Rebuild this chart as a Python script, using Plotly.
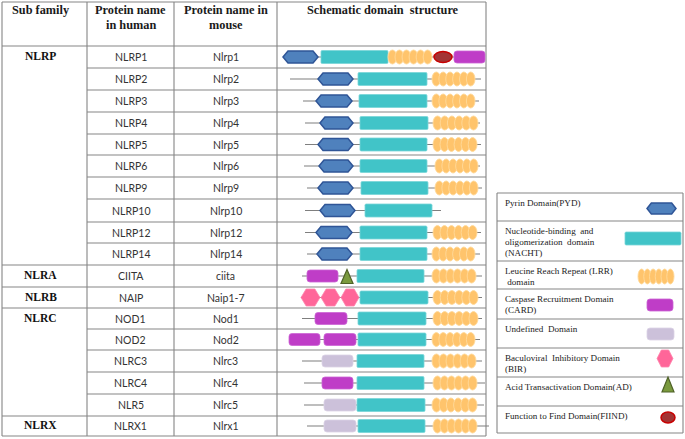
import plotly.graph_objects as go

# ---------------- data ----------------
subfamilies = ["NLRP", "NLRA", "NLRB", "NLRC", "NLRX"]
group_sizes = [10, 1, 1, 5, 1]
human = ["NLRP1", "NLRP2", "NLRP3", "NLRP4", "NLRP5", "NLRP6", "NLRP9", "NLRP10",
         "NLRP12", "NLRP14", "CIITA", "NAIP", "NOD1", "NOD2", "NLRC3", "NLRC4",
         "NLR5", "NLRX1"]
mouse = ["Nlrp1", "Nlrp2", "Nlrp3", "Nlrp4", "Nlrp5", "Nlrp6", "Nlrp9", "Nlrp10",
         "Nlrp12", "Nlrp14", "ciita", "Naip1-7", "Nod1", "Nod2", "Nlrc3", "Nlrc4",
         "Nlrc5", "Nlrx1"]
# backbone extent (schematic units)
backbone = [(6, 208), (13, 204), (26, 202), (28, 203), (28, 204), (27, 203), (30, 205),
            (28, 164), (28, 204), (30, 203), (25, 205), (24, 205), (25, 205), (12, 203),
            (25, 205), (27, 208), (27, 207), (30, 212)]
# domains: (type, start, end) in schematic units
domains = [
    [("PYD", 6, 41), ("NACHT", 44, 111), ("LRR", 111, 155), ("FIIND", 157, 175), ("CARD", 177, 208)],
    [("PYD", 41, 76), ("NACHT", 81, 150), ("LRR", 155, 198)],
    [("PYD", 39, 75), ("NACHT", 82, 150), ("LRR", 155, 198)],
    [("PYD", 43, 76), ("NACHT", 83, 151), ("LRR", 156, 201)],
    [("PYD", 41, 76), ("NACHT", 83, 150), ("LRR", 156, 200)],
    [("PYD", 42, 76), ("NACHT", 83, 150), ("LRR", 158, 201)],
    [("PYD", 41, 76), ("NACHT", 84, 151), ("LRR", 158, 201)],
    [("PYD", 43, 78), ("NACHT", 88, 155)],
    [("PYD", 39, 75), ("NACHT", 83, 150), ("LRR", 156, 200)],
    [("PYD", 40, 75), ("NACHT", 83, 150), ("LRR", 155, 198)],
    [("CARD", 30, 61), ("AD", 64, 76), ("NACHT", 80, 147), ("LRR", 155, 199)],
    [("BIR", 24, 43), ("BIR", 44, 63), ("BIR", 64, 82), ("NACHT", 83, 151), ("LRR", 156, 201)],
    [("CARD", 38, 70), ("NACHT", 81, 149), ("LRR", 156, 201)],
    [("CARD", 12, 43), ("CARD", 47, 79), ("NACHT", 81, 149), ("LRR", 155, 198)],
    [("UND", 45, 76), ("NACHT", 80, 147), ("LRR", 155, 199)],
    [("CARD", 45, 76), ("NACHT", 80, 147), ("LRR", 156, 200)],
    [("UND", 47, 79), ("NACHT", 80, 148), ("LRR", 155, 200)],
    [("UND", 47, 79), ("NACHT", 81, 148), ("LRR", 156, 200)],
]
legend_types = ["PYD", "NACHT", "LRR", "CARD", "UND", "BIR", "AD", "FIIND"]
legend_labels = [
    ["Pyrin Domain(PYD)"],
    ["Nucleotide-binding  and", "oligomerization  domain", "(NACHT)"],
    ["Leucine Reach Repeat (LRR)", " domain"],
    ["Caspase Recruitment Domain", "(CARD)"],
    ["Undefined  Domain"],
    ["Baculoviral  Inhibitory Domain", "(BIR)"],
    ["Acid Transactivation Domain(AD)"],
    ["Function to Find Domain(FIIND)"],
]
headers = [["Sub family"], ["Protein name", "in human"], ["Protein name in", "mouse"],
           ["Schematic domain  structure"]]

# ---------------- layout constants ----------------
W, H = 685, 439
col_x = [2, 87, 174, 277, 486]
top_y, head_y = 2, 46
row_edges = [46, 68, 90, 112, 134, 155, 177, 199, 222, 243, 265, 287, 308, 329, 350,
             372, 394, 416, 436]
schem0 = col_x[3]
grid = "#858585"
serif = "Liberation Serif"
sans = "Lato"

styles = {
    "PYD": dict(fill="#4F81BD", line="#2F5597", lw=1.5),
    "NACHT": dict(fill="#41C4C8", line="#7AD6D8", lw=0.8),
    "LRR": dict(fill="#FFC46C", line="#FFD99A", lw=0.9),
    "CARD": dict(fill="#BF3DC7", line="#CC66D4", lw=0.8),
    "UND": dict(fill="#CCC1DA", line="#DCD3E6", lw=0.8),
    "BIR": dict(fill="#FF6699", line="#FF85AD", lw=0.8),
    "AD": dict(fill="#7A9A3E", line="#4F6228", lw=1.2),
    "FIIND": dict(fill="#A33434", line="#C80000", lw=1.5),
}
half_h = {"PYD": 6, "NACHT": 6.5, "LRR": 7, "CARD": 6, "UND": 6, "BIR": 8.5,
          "AD": 7, "FIIND": 5.5}

shapes = []
annotations = []


def hline(x0, x1, y, color=grid, w=1.1):
    shapes.append(dict(type="line", xref="x", yref="y", x0=x0, x1=x1, y0=y, y1=y,
                       line=dict(color=color, width=w), layer="above"))


def vline(x, y0, y1, color=grid, w=1.1):
    shapes.append(dict(type="line", xref="x", yref="y", x0=x, x1=x, y0=y0, y1=y1,
                       line=dict(color=color, width=w), layer="above"))


def path_shape(p, st):
    shapes.append(dict(type="path", xref="x", yref="y", path=p, fillcolor=st["fill"],
                       line=dict(color=st["line"], width=st["lw"]), layer="above"))


def rounded(x0, x1, y0, y1, r):
    return (f"M{x0+r},{y0} L{x1-r},{y0} Q{x1},{y0} {x1},{y0+r} L{x1},{y1-r} "
            f"Q{x1},{y1} {x1-r},{y1} L{x0+r},{y1} Q{x0},{y1} {x0},{y1-r} "
            f"L{x0},{y0+r} Q{x0},{y0} {x0+r},{y0} Z")


def draw_domain(kind, x0, x1, yc, hh=None):
    st = styles[kind]
    h = hh if hh is not None else half_h[kind]
    y0, y1 = yc - h, yc + h
    if kind == "PYD":
        d = min(5, (x1 - x0) * 0.15)
        p = (f"M{x0},{yc} L{x0+d},{y0} L{x1-d},{y0} L{x1},{yc} L{x1-d},{y1} "
             f"L{x0+d},{y1} Z")
        path_shape(p, st)
    elif kind == "BIR":
        d = (x1 - x0) * 0.27
        p = (f"M{x0},{yc} L{x0+d},{y0} L{x1-d},{y0} L{x1},{yc} L{x1-d},{y1} "
             f"L{x0+d},{y1} Z")
        path_shape(p, st)
    elif kind == "NACHT":
        path_shape(rounded(x0, x1, y0, y1, 1.2), st)
    elif kind in ("CARD", "UND"):
        path_shape(rounded(x0, x1, y0, y1, 3), st)
    elif kind == "AD":
        p = f"M{x0},{y1} L{x1},{y1} L{(x0+x1)/2},{y0} Z"
        path_shape(p, st)
    elif kind == "FIIND":
        shapes.append(dict(type="circle", xref="x", yref="y", x0=x0, x1=x1, y0=y0, y1=y1,
                           fillcolor=st["fill"], line=dict(color=st["line"], width=st["lw"]),
                           layer="above"))
    elif kind == "LRR":
        n = 6
        step = (x1 - x0) / (n - 1 + 1.25)
        w = 1.25 * step
        for k in range(n):
            a = x0 + k * step
            shapes.append(dict(type="circle", xref="x", yref="y", x0=a, x1=a + w,
                               y0=y0, y1=y1, fillcolor=st["fill"],
                               line=dict(color=st["line"], width=st["lw"]), layer="above"))


def text(x, y, s, size, family, bold=False, anchor="center", color="#222"):
    annotations.append(dict(x=x, y=y, xref="x", yref="y", text=f"<b>{s}</b>" if bold else s,
                            showarrow=False, xanchor=anchor, yanchor="middle",
                            font=dict(size=size, family=family, color=color)))


# ---------------- table grid ----------------
hline(col_x[0], col_x[-1], top_y)
hline(col_x[0], col_x[-1], head_y)
for x in col_x:
    vline(x, top_y, row_edges[-1])
bounds = []
acc = 0
for g in group_sizes:
    bounds.append(acc)
    acc += g
for i in range(1, len(human)):
    x_start = col_x[0] if i in bounds else col_x[1]
    hline(x_start, col_x[-1], row_edges[i])
hline(col_x[0], col_x[-1], row_edges[-1])

# headers
head_cx = [(col_x[i] + col_x[i + 1]) / 2 for i in range(4)]
head_cx[0] -= 4
for i, lines in enumerate(headers):
    for j, s in enumerate(lines):
        text(head_cx[i] + (1 if i == 3 else 0), 10 + 14.5 * j, s, 12.3, serif, bold=True,
             color="#1a1a1a")

# subfamily labels
for g, start in zip(subfamilies, bounds):
    yc = (row_edges[start] + row_edges[start + 1]) / 2
    text(head_cx[0], yc - 1, g, 11.5, serif, bold=True, color="#111")

# rows
name_cx = [(col_x[1] + col_x[2]) / 2, (col_x[2] + col_x[3]) / 2]
for i in range(len(human)):
    yc = (row_edges[i] + row_edges[i + 1]) / 2
    text(name_cx[0], yc, human[i], 10.5, sans, color="#333")
    text(name_cx[1], yc, mouse[i], 10.5, sans, color="#333")
    b0, b1 = backbone[i]
    shapes.append(dict(type="line", xref="x", yref="y", x0=schem0 + b0, x1=schem0 + b1,
                       y0=yc, y1=yc, line=dict(color="#7f7f7f", width=1.2), layer="above"))
    for kind, s0, s1 in domains[i]:
        draw_domain(kind, schem0 + s0, schem0 + s1, yc + (0.5 if kind == "AD" else 0))

# ---------------- legend box ----------------
lg_x0, lg_x1 = 497, 683
lg_edges = [193, 221, 261, 289, 319, 348, 377, 406, 433]
icon_box = {
    "PYD": (647, 676, 208.5, 5.5),
    "NACHT": (625, 681, 238.5, 6.5),
    "LRR": (638, 674, 276.5, 7.5),
    "CARD": (647, 673, 305, 6),
    "UND": (647, 674, 334, 6),
    "BIR": (657, 673, 358.5, 8.5),
    "AD": (662, 674, 384.5, 7.5),
    "FIIND": (661, 675, 417.5, 5.5),
}
for y in lg_edges:
    hline(lg_x0, lg_x1, y)
vline(lg_x0, lg_edges[0], lg_edges[-1])
vline(lg_x1, lg_edges[0], lg_edges[-1])
for k, kind in enumerate(legend_types):
    for j, s in enumerate(legend_labels[k]):
        text(503, lg_edges[k] + 10 + 11 * j, s, 9.1, serif, anchor="left", color="#1a1a1a")
    x0, x1, yc, hh = icon_box[kind]
    draw_domain(kind, x0, x1, yc, hh)

fig = go.Figure()
fig.add_trace(go.Scatter(x=[0, W], y=[0, H], mode="markers", marker=dict(opacity=0),
                         hoverinfo="skip", showlegend=False))
fig.update_layout(
    width=W, height=H, margin=dict(l=0, r=0, t=0, b=0),
    paper_bgcolor="white", plot_bgcolor="white",
    xaxis=dict(range=[0, W], visible=False, fixedrange=True),
    yaxis=dict(range=[H, 0], visible=False, fixedrange=True),
    shapes=shapes, annotations=annotations, showlegend=False,
)
fig.write_html("out.html", config={"displayModeBar": False},
               post_script="document.body.style.margin='0';document.body.style.padding='0';"
                           "document.body.style.overflow='hidden';")
